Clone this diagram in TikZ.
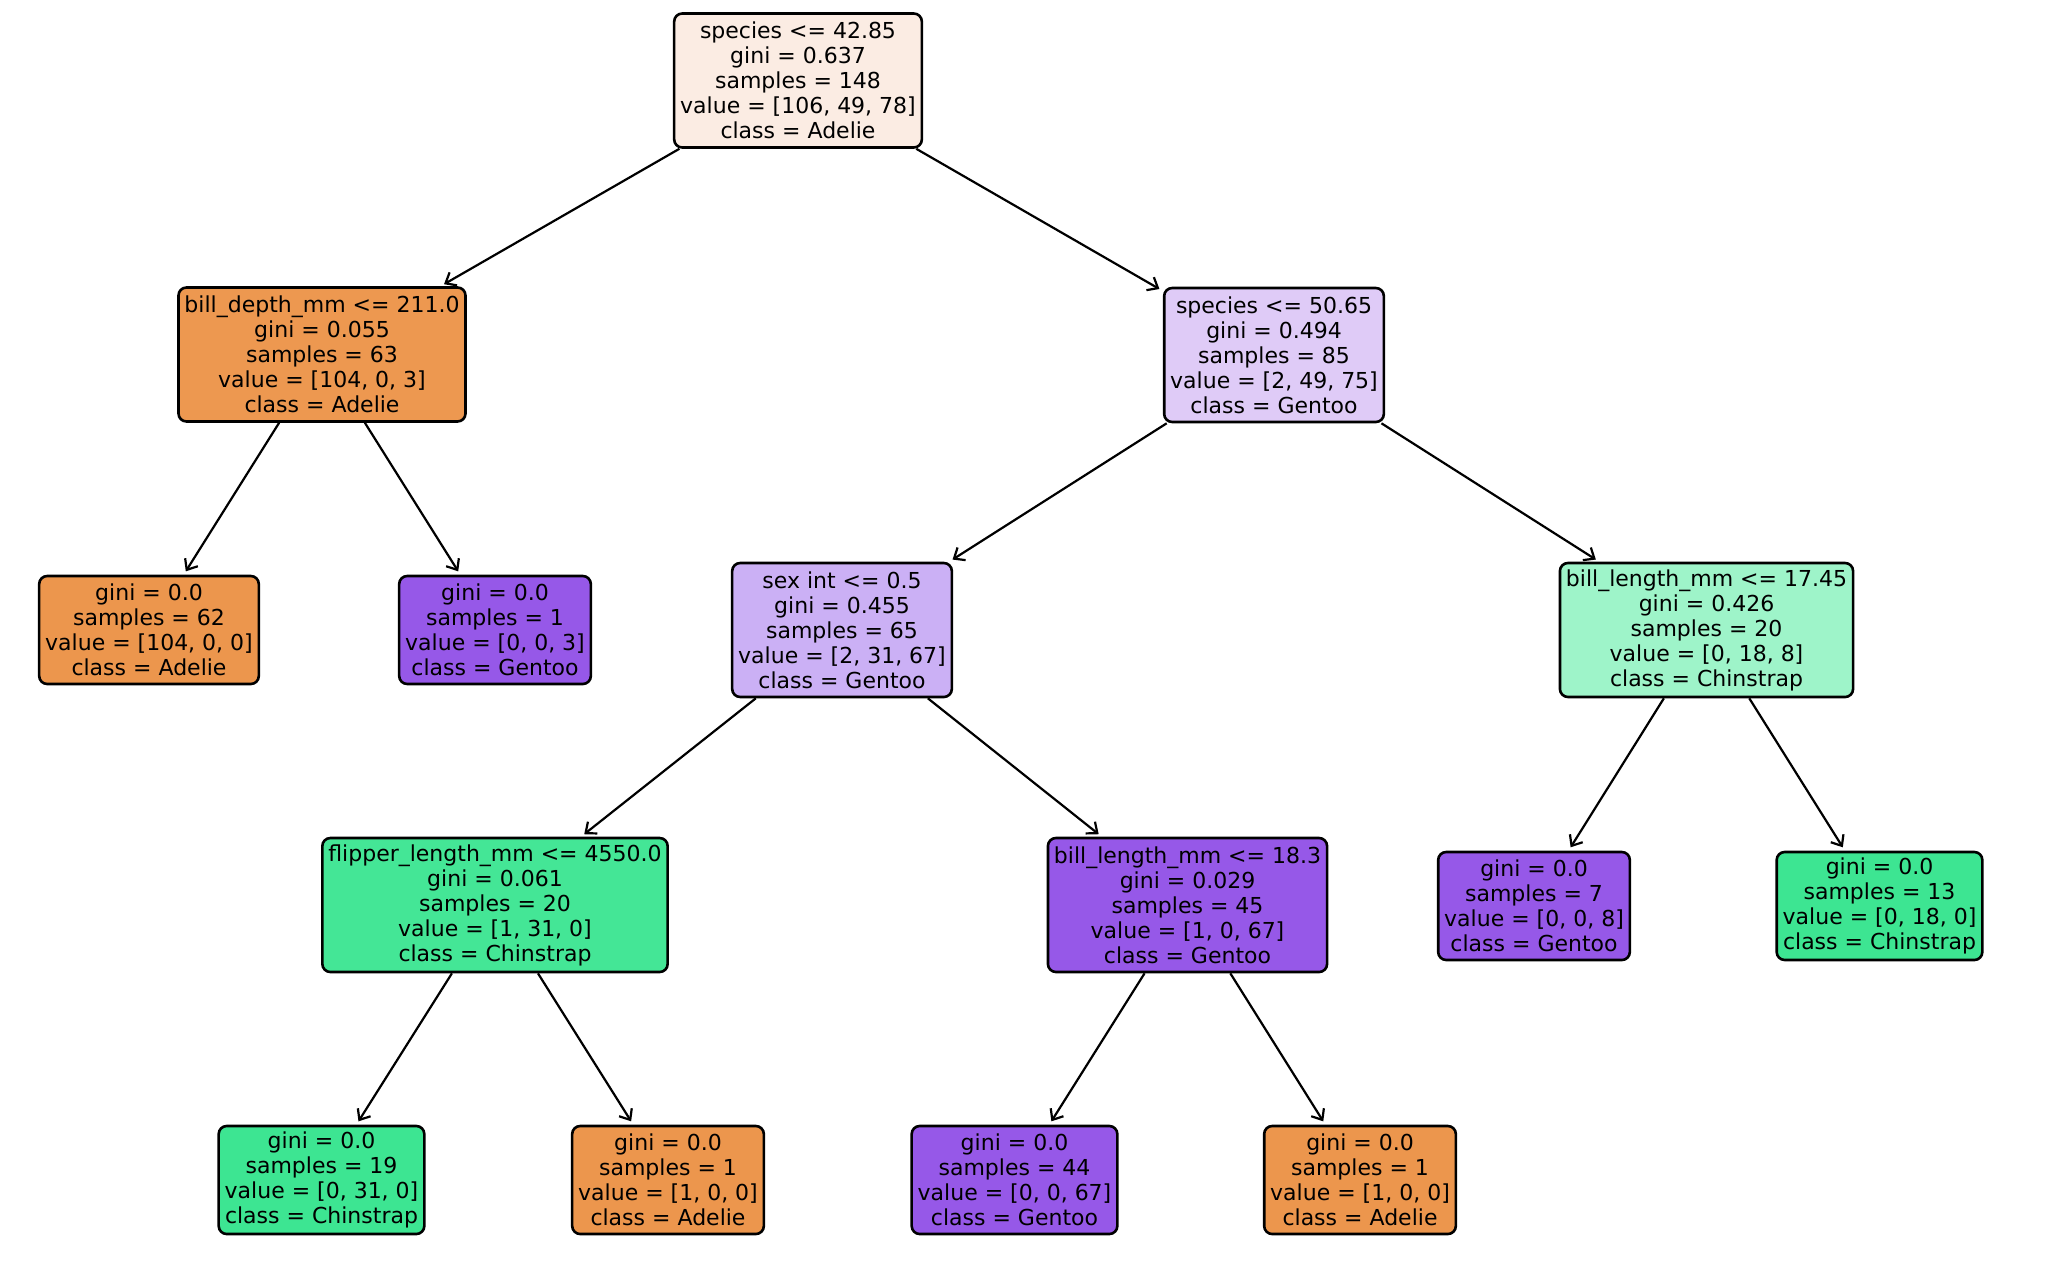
\documentclass[tikz,border=0pt]{standalone}
\usepackage{fontspec}
\setmainfont{DejaVu Sans}
\usetikzlibrary{arrows.meta}
\definecolor{adelie}{RGB}{236,150,77}
\definecolor{adelie97}{RGB}{237,152,80}
\definecolor{gentoo}{RGB}{150,88,232}
\definecolor{chin}{RGB}{61,229,146}
\definecolor{chin97}{RGB}{68,230,150}
\definecolor{rootc}{RGB}{251,236,227}
\definecolor{sp50}{RGB}{223,203,247}
\definecolor{sexc}{RGB}{203,176,245}
\definecolor{bl17c}{RGB}{158,244,201}
\begin{document}
\begin{tikzpicture}[x=0.5pt,y=-0.5pt,
  tbox/.style={draw=black, line width=1.3pt, rounded corners=4pt, align=center,
    font=\fontsize{11pt}{12.5pt}\selectfont, inner xsep=3pt, inner ysep=0pt},
  inode/.style={tbox, minimum height=67pt},
  lnode/.style={tbox, minimum height=54pt},
  edge/.style={-{Straight Barb[length=4.5pt,width=7.5pt,line width=1.1pt]}, line width=1.1pt, shorten >=2pt}]
\useasboundingbox (0,0) rectangle (2048,1274);

\node[inode, fill=rootc] (root) at (798,80.5) {species <= 42.85\\gini = 0.637\\samples = 148\\value = [106, 49, 78]\\class = Adelie};
\node[inode, fill=adelie97] (bd) at (322,354.5) {bill\_depth\_mm <= 211.0\\gini = 0.055\\samples = 63\\value = [104, 0, 3]\\class = Adelie};
\node[inode, fill=sp50] (sp) at (1274,355) {species <= 50.65\\gini = 0.494\\samples = 85\\value = [2, 49, 75]\\class = Gentoo};
\node[lnode, fill=adelie] (l62) at (149,630) {gini = 0.0\\samples = 62\\value = [104, 0, 0]\\class = Adelie};
\node[lnode, fill=gentoo] (l1g) at (495,630) {gini = 0.0\\samples = 1\\value = [0, 0, 3]\\class = Gentoo};
\node[inode, fill=sexc] (sex) at (842,630) {sex int <= 0.5\\gini = 0.455\\samples = 65\\value = [2, 31, 67]\\class = Gentoo};
\node[inode, fill=bl17c] (bl17) at (1706.5,630) {bill\_length\_mm <= 17.45\\gini = 0.426\\samples = 20\\value = [0, 18, 8]\\class = Chinstrap};
\node[inode, fill=chin97] (fl) at (495,905) {flipper\_length\_mm <= 4550.0\\gini = 0.061\\samples = 20\\value = [1, 31, 0]\\class = Chinstrap};
\node[inode, fill=gentoo] (bl18) at (1187.5,905) {bill\_length\_mm <= 18.3\\gini = 0.029\\samples = 45\\value = [1, 0, 67]\\class = Gentoo};
\node[lnode, fill=gentoo] (l7) at (1534,906) {gini = 0.0\\samples = 7\\value = [0, 0, 8]\\class = Gentoo};
\node[lnode, fill=chin] (l13) at (1879.5,906) {gini = 0.0\\samples = 13\\value = [0, 18, 0]\\class = Chinstrap};
\node[lnode, fill=chin] (l19) at (321.5,1180) {gini = 0.0\\samples = 19\\value = [0, 31, 0]\\class = Chinstrap};
\node[lnode, fill=adelie] (l1a) at (668,1180) {gini = 0.0\\samples = 1\\value = [1, 0, 0]\\class = Adelie};
\node[lnode, fill=gentoo] (l44) at (1014.5,1180) {gini = 0.0\\samples = 44\\value = [0, 0, 67]\\class = Gentoo};
\node[lnode, fill=adelie] (l1b) at (1360,1180) {gini = 0.0\\samples = 1\\value = [1, 0, 0]\\class = Adelie};

\draw[edge] (root) -- (bd);
\draw[edge] (root) -- (sp);
\draw[edge] (bd) -- (l62);
\draw[edge] (bd) -- (l1g);
\draw[edge] (sp) -- (sex);
\draw[edge] (sp) -- (bl17);
\draw[edge] (sex) -- (fl);
\draw[edge] (sex) -- (bl18);
\draw[edge] (bl17) -- (l7);
\draw[edge] (bl17) -- (l13);
\draw[edge] (fl) -- (l19);
\draw[edge] (fl) -- (l1a);
\draw[edge] (bl18) -- (l44);
\draw[edge] (bl18) -- (l1b);
\end{tikzpicture}
\end{document}
